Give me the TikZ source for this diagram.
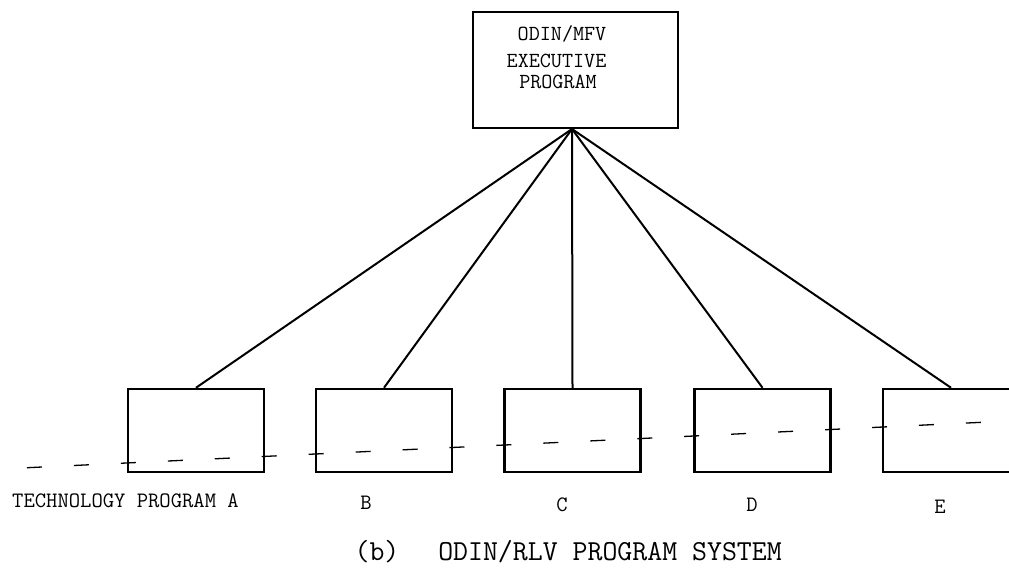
\documentclass[tikz,border=0pt]{standalone}
\usepackage{fontspec}
\begin{document}
\begin{tikzpicture}[x=1pt,y=-1pt,
  box/.style={draw, line width=2.5pt, minimum width=136pt, minimum height=83pt, inner sep=0pt},
  link/.style={line width=2pt},
  dashline/.style={line width=1.3pt, dash pattern=on 15pt off 32pt, dash phase=20pt},
  toptxt/.style={font=\ttfamily\fontsize{21.5}{24}\selectfont, inner sep=0pt, anchor=base},
  lbl/.style={font=\ttfamily\fontsize{22}{24}\selectfont, inner sep=0pt, anchor=base},
  captxt/.style={font=\ttfamily\fontsize{29}{32}\selectfont, inner sep=0pt, anchor=base}]
\useasboundingbox (0,0) rectangle (1009,574);
\clip (0,0) rectangle (1009,574);
% executive box
\node[box, minimum width=205pt, minimum height=116pt] (exec) at (575.5,70) {};
\node[toptxt] (t1) at (562,40) {ODIN/MFV};
\node[toptxt] (t2) at (556.5,67) {EXECUTIVE};
\node[toptxt] (t3) at (558,88) {PROGRAM};
% program boxes
\node[box] (A) at (196,430.5) {};
\node[box] (B) at (384,430.5) {};
\node[box] (C) at (572.5,430.5) {};
\node[box] (D) at (762.5,430.5) {};
\node[box] (E) at (951,430.5) {};
% dashed line
\coordinate (dl) at (0,469);
\coordinate (dr) at (1009,421);
\draw[dashline] (dl) -- (dr);
% connectors
\coordinate (apex) at (572,129);
\foreach \n in {A,B,C,D,E} \draw[link] (apex) -- (\n.north);
% labels
\node[lbl, anchor=base west] (la) at (12,507) {TECHNOLOGY PROGRAM A};
\node[lbl] (lb) at (366,509) {B};
\node[lbl] (lc) at (562,511) {C};
\node[lbl] (ld) at (752,511) {D};
\node[lbl] (le) at (940,513) {E};
% caption
\node[captxt] (capb) at (377,560) {(b)};
\node[captxt] (capt) at (610,560) {ODIN/RLV PROGRAM SYSTEM};
\end{tikzpicture}
\end{document}
